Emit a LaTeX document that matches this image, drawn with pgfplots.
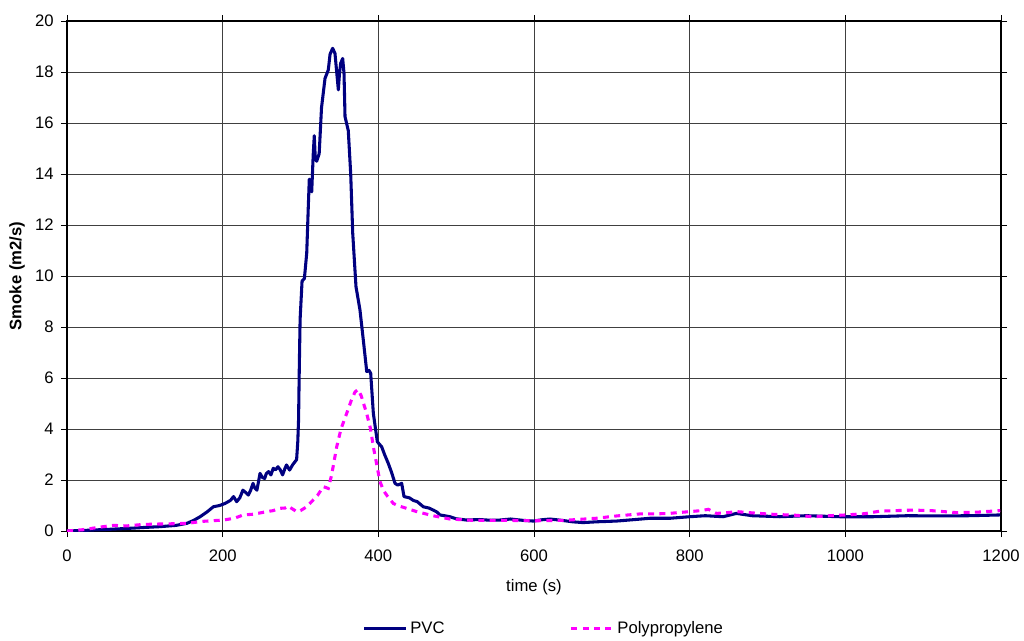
\documentclass[border=0pt]{standalone}
\usepackage{pgfplots}
\pgfplotsset{compat=1.18}
\usepackage{fontspec}
\setmainfont{Liberation Sans}
\definecolor{pvc}{RGB}{0,0,128}
\definecolor{pp}{RGB}{255,0,255}
\begin{document}
\begin{tikzpicture}
\path[use as bounding box] (-50.25pt,-81.75pt) rectangle (717.75pt,398.25pt);
\begin{axis}[
  at={(0,0)}, anchor=south west,
  scale only axis, width=700.5pt, height=382.5pt,
  xmin=0, xmax=1200, ymin=0, ymax=20,
  xtick={0,200,...,1200}, ytick={0,2,...,20},
  grid=major,
  major grid style={black!75, line width=0.6pt},
  axis line style={black, line width=0.8pt},
  tick align=outside, major tick length=4.5pt,
  tick style={black, line width=0.6pt},
  tick label style={font=\fontsize{12.5}{14}\selectfont},
  xticklabel style={yshift=-6pt},
  yticklabel style={xshift=-2pt},
  /pgf/number format/assume math mode=true,
  /pgf/number format/1000 sep={},
  xlabel={time (s)},
  xlabel style={font=\fontsize{12.5}{14}\selectfont, at={(axis description cs:0.5,-0.11)}, anchor=center},
  ylabel={\textbf{Smoke (m2/s)}},
  ylabel style={font=\fontsize{12.5}{14}\selectfont, at={(axis description cs:-0.0535,0.5)}, anchor=center, rotate=0},
  legend style={at={(0.511,-0.192)}, anchor=center, draw=none, fill=none,
    font=\fontsize{12.5}{14}\selectfont, legend columns=2,
    /tikz/every even column/.append style={column sep=92pt}},
  legend image code/.code={\draw[#1] (0cm,0cm) -- (1.1cm,0cm);},
]
\addplot[pvc, line width=2.3pt, line join=round] coordinates {
(0,0) (20,0.02) (34,0.04) (50,0.06) (77,0.1) (100,0.14) (119,0.17) (140,0.22)
(154,0.3) (163,0.42) (171,0.56) (180,0.75) (188,0.95) (196,1.0) (203,1.08)
(210,1.2) (214,1.35) (218,1.15) (222,1.3) (226,1.6) (230,1.5) (233,1.41)
(236,1.6) (239,1.87) (241,1.7) (244,1.6) (248,2.26) (251,2.1) (254,2.06)
(256,2.25) (259,2.33) (262,2.2) (265,2.46) (268,2.4) (271,2.52) (274,2.4)
(277,2.2) (280,2.45) (282,2.59) (286,2.39) (290,2.6) (295,2.8) (296.5,3.5)
(297.5,4.35) (298.5,6.5) (299.5,8.3) (302,9.8) (305,9.9) (308,10.9) (310,12.7)
(311.3,13.8) (313,13.4) (314.4,13.3) (316.4,14.8) (317.7,15.5) (319,14.6)
(320.8,14.5) (324,14.8) (327,16.6) (331.5,17.75) (335.7,18.08) (338,18.7)
(341.3,18.93) (344.3,18.73) (346.5,18.0) (348.6,17.3) (350,17.9) (351.6,18.34)
(354.2,18.53) (355.9,17.95) (357.2,16.25) (361.4,15.7) (364.5,14.0) (367.1,11.67)
(371.3,9.58) (376.4,8.67) (380.7,7.49) (385.1,6.25) (388,6.3) (390.2,6.18)
(393.6,4.61) (398.7,3.5) (404.3,3.3) (408,3.0) (412.8,2.65) (417,2.3)
(421.4,1.87) (425,1.8) (430,1.87) (433,1.35) (440,1.3) (444.9,1.2) (450,1.15)
(457.8,0.95) (465,0.9) (470.6,0.82) (475,0.75) (479.2,0.63) (485,0.6)
(492,0.56) (500,0.48) (513.5,0.43) (530,0.45) (545,0.42) (556,0.43) (570,0.47)
(585,0.42) (599,0.39) (610,0.44) (620.6,0.47) (635,0.42) (650,0.36) (663,0.33)
(680,0.36) (706,0.39) (730,0.45) (749,0.5) (775,0.5) (800,0.56) (820,0.6)
(843,0.56) (860,0.69) (880,0.6) (916,0.56) (950,0.6) (993,0.56) (1036,0.56)
(1080,0.6) (1122,0.59) (1160,0.6) (1199,0.63)
};
\addlegendentry{PVC}
\addplot[pp, line width=2.3pt, dash pattern=on 4.5pt off 4pt] coordinates {
(0,0) (20,0.05) (46.6,0.17) (60,0.22) (77,0.2) (95,0.25) (111,0.27) (130,0.28)
(154,0.3) (175,0.38) (200.8,0.43) (215,0.5) (226.5,0.63) (240,0.66) (256.6,0.76)
(265,0.8) (273.6,0.89) (280,0.9) (284.3,0.98) (288,0.9) (295,0.76) (300,0.8)
(308,0.95) (316.4,1.22) (322,1.4) (329.3,1.74) (335.7,1.67) (340,2.2)
(346.5,3.3) (352,4.0) (359.3,4.61) (365,5.1) (370,5.45) (374,5.55) (378,5.3)
(385,4.61) (390,4.0) (393.6,3.3) (398,2.6) (402,1.95) (406.4,1.6) (412,1.35)
(419.3,1.08) (425,1.0) (435,0.9) (449.3,0.76) (470,0.6) (492,0.47) (520,0.42)
(560,0.42) (600,0.4) (640,0.42) (680,0.5) (706,0.59) (736,0.67) (770,0.68)
(800,0.76) (815,0.8) (824,0.85) (834.6,0.69) (848,0.72) (860.4,0.76) (885,0.7)
(909,0.65) (935,0.62) (958.8,0.56) (980,0.6) (1001,0.63) (1025,0.68)
(1044.6,0.78) (1065,0.8) (1087,0.82) (1110,0.8) (1143,0.72) (1170,0.74)
(1199,0.8)
};
\addlegendentry{Polypropylene}
\end{axis}
\end{tikzpicture}
\end{document}
